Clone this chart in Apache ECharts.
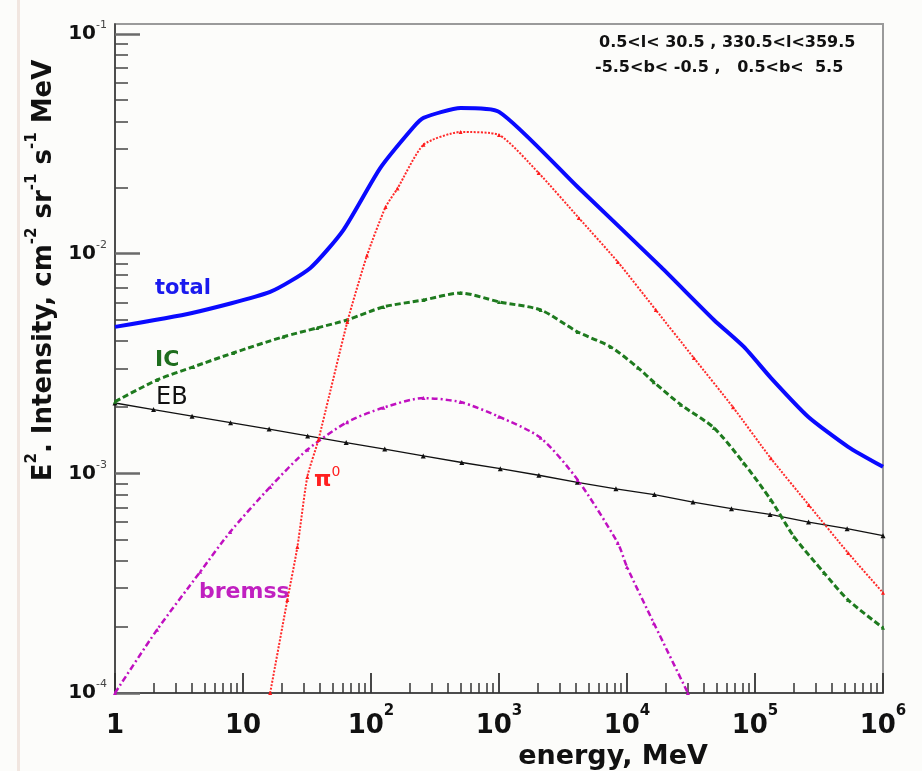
<!DOCTYPE html>
<html>
<head>
<meta charset="utf-8">
<script src="https://cdn.jsdelivr.net/npm/echarts@6/dist/echarts.min.js"></script>
<style>
html,body{margin:0;padding:0;background:#fcfcfa;}
#chart{width:922px;height:771px;}
</style>
</head>
<body>
<div id="chart"></div>
<script>
// ---------- data ----------
const totalE = [1, 4, 16.3, 33.6, 60.8, 118, 215, 257, 501, 1000, 4120, 18400, 47800, 82000, 133000, 260000, 534000, 1000000];
const totalV = [0.00464, 0.00537, 0.0067, 0.00861, 0.0128, 0.0245, 0.0377, 0.0415, 0.046, 0.0442, 0.0201, 0.0087, 0.00499, 0.00376, 0.00272, 0.00181, 0.00132, 0.00107];

const pi0E = [16.3, 22.2, 26.6, 31.8, 38.8, 65.3, 93, 130, 161, 257, 501, 1000, 2040, 4200, 8470, 16800, 33300, 67300, 133000, 263000, 534000, 1000000];
const pi0V = [0.0001, 0.000265, 0.000462, 0.000963, 0.00142, 0.00489, 0.0098, 0.0163, 0.0198, 0.0313, 0.0358, 0.0347, 0.0233, 0.01454, 0.00917, 0.00554, 0.00335, 0.002, 0.00117, 0.000718, 0.000434, 0.000286];

const icE = [1, 2.13, 4.08, 8.38, 20.6, 38, 65, 125, 257, 501, 1000, 2117, 4120, 7470, 12200, 16200, 26400, 47800, 82000, 133000, 202000, 347000, 534000, 1000000];
const icV = [0.00212, 0.00266, 0.00305, 0.00353, 0.00418, 0.00459, 0.00499, 0.00572, 0.00615, 0.00662, 0.00603, 0.00554, 0.0044, 0.00376, 0.00302, 0.0026, 0.00205, 0.00161, 0.00111, 0.000757, 0.000514, 0.000352, 0.000265, 0.000198];

const ebE = [1, 2, 4, 8, 16, 32, 64, 128, 256, 512, 1024, 2048, 4096, 8192, 16384, 32768, 65536, 131072, 262144, 524288, 1000000];
const ebV = [0.00209, 0.00195, 0.00182, 0.0017, 0.00159, 0.00148, 0.00138, 0.00129, 0.0012, 0.00112, 0.00105, 0.00098, 0.00091, 0.00085, 0.0008, 0.00074, 0.00069, 0.00065, 0.0006, 0.00056, 0.00052];

const bremE = [1, 2.13, 4.63, 7.94, 16.3, 31.8, 65, 125, 257, 501, 1000, 2115, 4120, 8470, 10000, 16200, 29900];
const bremV = [0.0001, 0.000194, 0.000356, 0.000541, 0.000867, 0.00128, 0.00171, 0.00199, 0.0022, 0.00211, 0.00181, 0.00145, 0.000933, 0.000482, 0.000375, 0.000208, 0.0001];

// ---------- ticks and labels ----------
const xMajorTicks = [1, 10, 100, 1000, 10000, 100000, 1000000];
const xTickLabels = ['1', '10', '10^2', '10^3', '10^4', '10^5', '10^6'];
const xMinorTicks = [2,3,4,5,6,7,8,9, 20,30,40,50,60,70,80,90, 200,300,400,500,600,700,800,900,
  2000,3000,4000,5000,6000,7000,8000,9000, 20000,30000,40000,50000,60000,70000,80000,90000,
  200000,300000,400000,500000,600000,700000,800000,900000];
const yMajorTicks = [0.0001, 0.001, 0.01, 0.1];
const yTickLabels = ['10^-4', '10^-3', '10^-2', '10^-1'];
const yMinorTicks = [0.0002,0.0003,0.0004,0.0005,0.0006,0.0007,0.0008,0.0009,
  0.002,0.003,0.004,0.005,0.006,0.007,0.008,0.009,
  0.02,0.03,0.04,0.05,0.06,0.07,0.08,0.09];

const regionLine1 = '0.5<l< 30.5 , 330.5<l<359.5';
const regionLine2 = '-5.5<b< -0.5 ,   0.5<b<  5.5';
const xTitle = 'energy, MeV';

function pairs(xs, ys) { return xs.map((x, i) => [x, ys[i]]); }
function richLabel(s) {
  const p = s.split('^');
  return p.length > 1 ? '{b|' + p[0] + '}{s|' + p[1] + '}' : '{b|' + p[0] + '}';
}
function labelFor(value, ticks, labels) {
  for (let i = 0; i < ticks.length; i++) {
    if (Math.abs(Math.log10(value) - Math.log10(ticks[i])) < 1e-6) return richLabel(labels[i]);
  }
  return '';
}

const FONT = 'DejaVu Sans';
const chart = echarts.init(document.getElementById('chart'), null, {renderer: 'canvas'});

const option = {
  backgroundColor: '#fcfcfa',
  animation: false,
  grid: {left: 115, right: 39, top: 24, bottom: 78, outerBoundsMode: 'none', containLabel: false,
    show: true, borderColor: '#9a9a9a', borderWidth: 2, backgroundColor: 'transparent'},
  xAxis: [
    {
      type: 'log', logBase: 10, min: 1, max: 1000000, position: 'bottom',
      name: xTitle, nameLocation: 'middle', nameGap: 35,
      nameTextStyle: {fontFamily: FONT, fontWeight: 'bold', fontSize: 27, color: '#111', padding: [0, 0, 0, 228]},
      axisLine: {show: true, lineStyle: {color: '#333', width: 1.5}},
      axisTick: {show: true, inside: true, length: 20, customValues: xMajorTicks, lineStyle: {color: '#333', width: 1.8}},
      axisLabel: {
        show: true, margin: 11, customValues: xMajorTicks,
        formatter: v => labelFor(v, xMajorTicks, xTickLabels),
        rich: {
          b: {fontFamily: FONT, fontWeight: 'bold', fontSize: 26, lineHeight: 44, color: '#111'},
          s: {fontFamily: FONT, fontWeight: 'bold', fontSize: 15, lineHeight: 15, verticalAlign: 'top', color: '#111'}
        }
      },
      splitLine: {show: false}, minorTick: {show: false}
    },
    {
      type: 'log', logBase: 10, min: 1, max: 1000000, position: 'bottom', offset: 0,
      axisLine: {show: false},
      axisTick: {show: true, inside: true, length: 10, customValues: xMinorTicks, lineStyle: {color: '#333', width: 1.5}},
      axisLabel: {show: false}, splitLine: {show: false}
    }
  ],
  yAxis: [
    {
      type: 'log', logBase: 10, min: 0.0001, max: 0.111, position: 'left',
      name: '{t|E}{u|2}{t|. Intensity, cm}{u|-2}{t| sr}{u|-1}{t| s}{u|-1}{t| MeV}',
      nameLocation: 'middle', nameRotate: 90, nameGap: 50,
      nameTextStyle: {
        padding: [0, 0, 0, 176],
        rich: {
          t: {fontFamily: FONT, fontWeight: 'bold', fontSize: 26, lineHeight: 40, color: '#111'},
          u: {fontFamily: FONT, fontWeight: 'bold', fontSize: 15, lineHeight: 15, verticalAlign: 'top', color: '#111'}
        }
      },
      axisLine: {show: true, lineStyle: {color: '#333', width: 1.5}},
      axisTick: {show: true, inside: true, length: 25, customValues: yMajorTicks, lineStyle: {color: '#6a6a6a', width: 2.5}},
      axisLabel: {
        show: true, margin: 8, customValues: yMajorTicks,
        formatter: v => labelFor(v, yMajorTicks, yTickLabels),
        rich: {
          b: {fontFamily: FONT, fontWeight: 'bold', fontSize: 20, lineHeight: 28, color: '#111'},
          s: {fontFamily: FONT, fontSize: 11, lineHeight: 11, verticalAlign: 'top', color: '#444'}
        }
      },
      splitLine: {show: false}, minorTick: {show: false}
    },
    {
      type: 'log', logBase: 10, min: 0.0001, max: 0.111, position: 'left', offset: 0,
      axisLine: {show: false},
      axisTick: {show: true, inside: true, length: 13, customValues: yMinorTicks, lineStyle: {color: '#444', width: 1.5}},
      axisLabel: {show: false}, splitLine: {show: false}
    }
  ],
  series: [
    {
      name: 'EB', type: 'line', xAxisIndex: 0, yAxisIndex: 0, data: pairs(ebE, ebV),
      symbol: 'triangle', symbolSize: 5, itemStyle: {color: '#111'},
      lineStyle: {color: '#111', width: 1.3}, z: 3
    },
    {
      name: 'bremss', type: 'line', xAxisIndex: 0, yAxisIndex: 0, data: pairs(bremE, bremV),
      smooth: 0.25, symbol: 'triangle', symbolSize: 4, itemStyle: {color: '#c010c0'},
      lineStyle: {color: '#c010c0', width: 2.5, type: [6, 3, 2, 3]}, z: 4
    },
    {
      name: 'IC', type: 'line', xAxisIndex: 0, yAxisIndex: 0, data: pairs(icE, icV),
      smooth: 0.25, symbol: 'triangle', symbolSize: 4, itemStyle: {color: '#1e7a1e'},
      lineStyle: {color: '#1e7a1e', width: 3, type: [6, 3]}, z: 5
    },
    {
      name: 'pi0', type: 'line', xAxisIndex: 0, yAxisIndex: 0, data: pairs(pi0E, pi0V),
      smooth: 0.2, symbol: 'triangle', symbolSize: 4, itemStyle: {color: '#ff1a1a'},
      lineStyle: {color: '#ff2a2a', width: 2, type: [2, 1.5]}, z: 6
    },
    {
      name: 'total', type: 'line', xAxisIndex: 0, yAxisIndex: 0, data: pairs(totalE, totalV),
      smooth: 0.2, showSymbol: false, symbol: 'none',
      lineStyle: {color: '#0a0aff', width: 4}, z: 7
    }
  ],
  graphic: [
    {type: 'rect', shape: {x: 17, y: 0, width: 3, height: 771}, style: {fill: '#f1e6e0'}, silent: true},
    {type: 'text', x: 599, y: 43, style: {text: regionLine1, font: 'bold 16px "DejaVu Sans"', fill: '#111', verticalAlign: 'middle'}},
    {type: 'text', x: 595, y: 68, style: {text: regionLine2, font: 'bold 16px "DejaVu Sans"', fill: '#111', verticalAlign: 'middle'}},
    {type: 'text', x: 155, y: 289, style: {text: 'total', font: 'bold 21px "DejaVu Sans"', fill: '#1a1aee', verticalAlign: 'middle'}},
    {type: 'text', x: 155, y: 360, style: {text: 'IC', font: 'bold 22px "DejaVu Sans"', fill: '#1e6e1e', verticalAlign: 'middle'}},
    {type: 'text', x: 156, y: 398, style: {text: 'EB', font: '24px "DejaVu Sans"', fill: '#111', verticalAlign: 'middle'}},
    {type: 'text', x: 199, y: 592, style: {text: 'bremss', font: 'bold 22px "DejaVu Sans"', fill: '#c020c0', verticalAlign: 'middle'}},
    {type: 'text', x: 314, y: 480, style: {
      text: '{p|π}{z|0}', verticalAlign: 'middle',
      rich: {
        p: {font: 'bold 22px "DejaVu Sans"', fill: '#ff2020', lineHeight: 30},
        z: {font: '14px "DejaVu Sans"', fill: '#ff2020', lineHeight: 14, verticalAlign: 'top'}
      }
    }}
  ]
};
chart.setOption(option);
</script>
</body>
</html>
